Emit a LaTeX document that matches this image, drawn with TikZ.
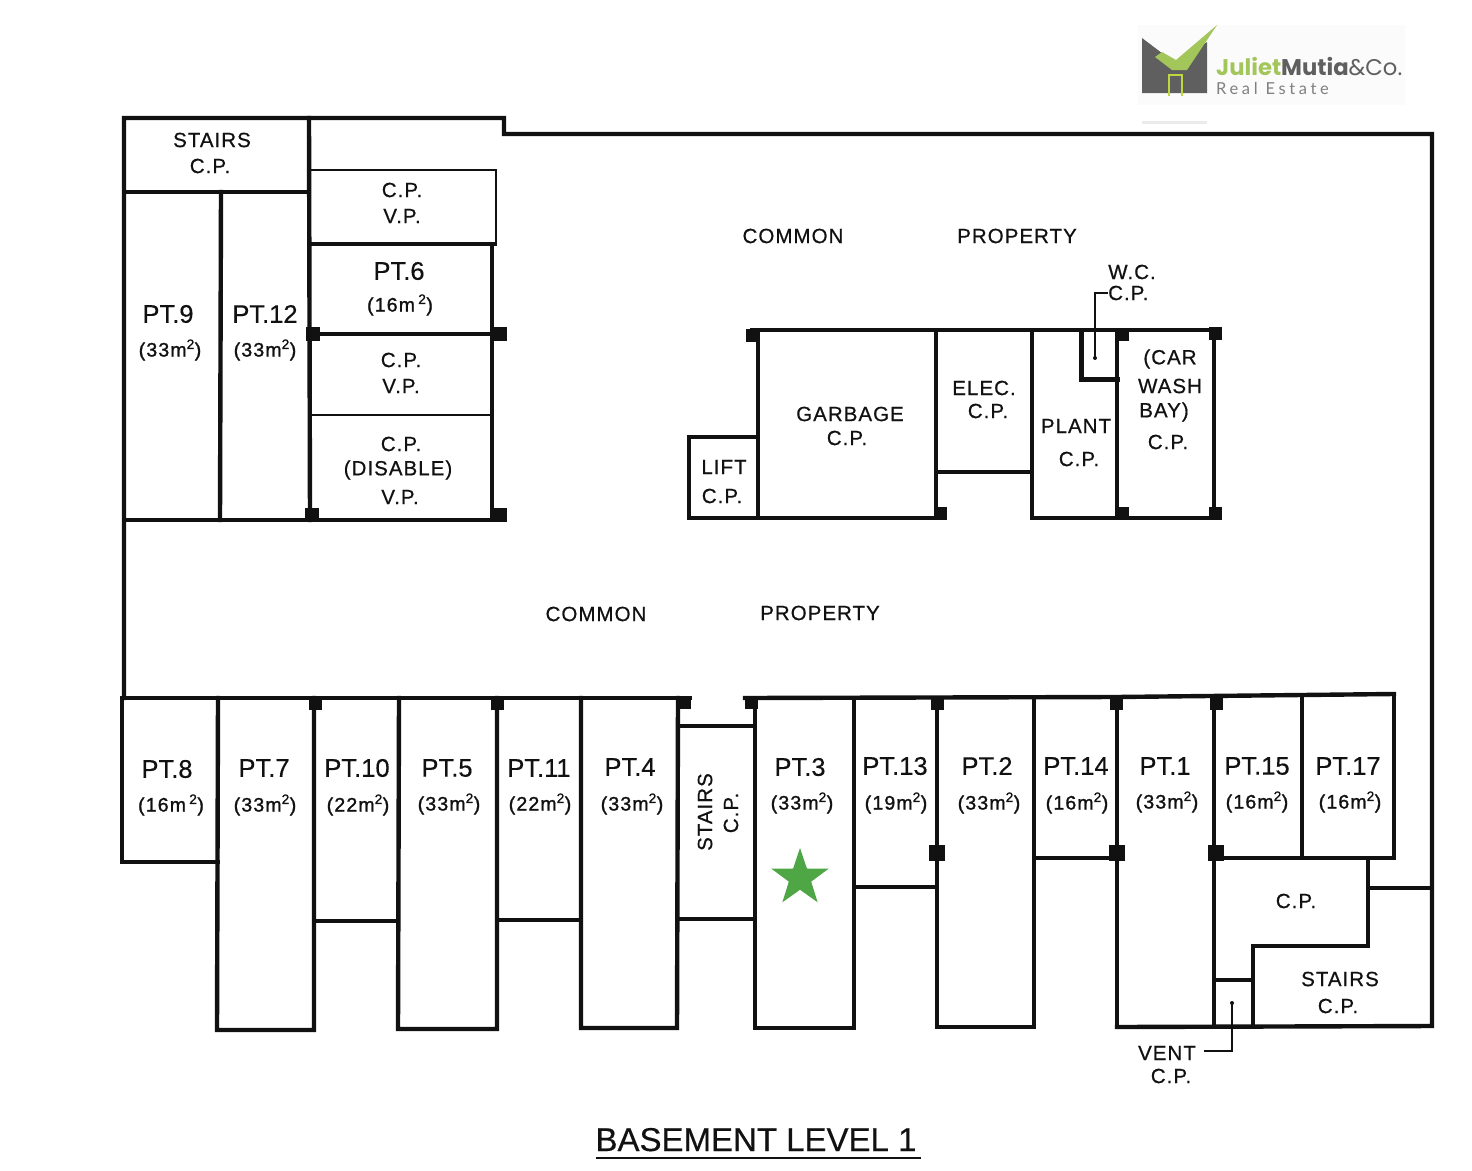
\documentclass[tikz,border=0pt]{standalone}
\usepackage{fontspec}
\setmainfont{Liberation Sans}
\newfontfamily\cadfont[LetterSpace=5,FakeBold=0.6]{Liberation Sans}
\newfontfamily\areafont[LetterSpace=6,FakeBold=1.2]{Liberation Sans}
\newfontfamily\ptfont[FakeBold=0.4]{Liberation Sans}
\newfontfamily\logofont{Poppins}
\newfontfamily\logolight[LetterSpace=22]{Lato}
\usetikzlibrary{shapes.geometric}
\definecolor{logogray}{HTML}{5F5F5F}
\definecolor{logogreen}{HTML}{A3C65A}
\definecolor{inkblack}{HTML}{111111}
\definecolor{stargreen}{HTML}{4FA644}
\tikzset{
  wall/.style={draw=inkblack,line width=4.4pt,line cap=rect,line join=miter},
  thinwall/.style={draw=inkblack,line width=2pt},
  leader/.style={draw=inkblack,line width=1.3pt},
  post/.style={fill=inkblack,draw=none,minimum size=13pt,inner sep=0pt,shape=rectangle},
  lab/.style={font=\cadfont\fontsize{20.5}{24}\selectfont,text=inkblack,inner sep=0pt,align=center},
  pt/.style={font=\ptfont\fontsize{25.5}{28}\selectfont,text=inkblack,inner sep=0pt},
  area/.style={font=\areafont\fontsize{19.5}{22}\selectfont,text=inkblack,inner sep=0pt},
}
\newcommand{\sq}{\textsuperscript{2}}
\begin{document}
\begin{tikzpicture}[x=1pt,y=-1pt]
\useasboundingbox[fill=white] (0,0) rectangle (1472,1170);
% logo
\fill[black!1.5] (1138,25) rectangle (1405,105);
\fill[black!8] (1142,121) rectangle (1207,124);
\fill[logogray] (1142,38) -- (1175,63) -- (1207,42) -- (1207,93) -- (1142,93) -- cycle;
\fill[logogreen] (1155,57) -- (1162,52) -- (1176,60) -- (1217,25) -- (1187,70) -- (1172,70) -- cycle;
\draw[logogreen!70!yellow,line width=1.2pt] (1169,96) -- (1169,75) -- (1182,75) -- (1182,96);
\node[anchor=base west,inner sep=0pt,font=\logofont\fontsize{22.7}{24}\selectfont] (logoname) at (1216,75)
  {\textcolor{logogreen}{\textbf{Juliet}}\textcolor{logogray}{\textbf{Mutia}}\textcolor{logogray}{\&Co.}};
\node[anchor=base west,inner sep=0pt,font=\logolight\fontsize{16.5}{18}\selectfont,text=black!50] (logosub) at (1216,94) {Real Estate};

% outer wall
\draw[wall] (124,698) -- (124,118) -- (504,118) -- (504,134) -- (1432,134) -- (1432,1026) -- (1117,1027);
% top-left block
\draw[wall] (124,192) -- (308,192);
\draw[wall] (309,118) -- (310,520);
\draw[wall] (221,192) -- (220,520);
\draw[wall] (124,520) -- (503,520);
\draw[thinwall] (310,170) -- (496,170) -- (496,244);
\draw[wall] (312,244) -- (495,244);
\draw[wall] (492,244) -- (492,520);
\draw[wall] (312,334) -- (500,334);
\draw[thinwall] (312,415) -- (492,415);
% centre block
\draw[wall] (752,330) -- (1218,330);
\draw[wall] (758,330) -- (758,518);
\draw[wall] (689,437) -- (758,437);
\draw[wall] (689,437) -- (689,518) -- (945,518);
\draw[wall] (936,330) -- (936,518);
\draw[wall] (936,472) -- (1032,472);
\draw[wall] (1032,330) -- (1032,518) -- (1218,518);
\draw[wall] (1117,330) -- (1117,518);
\draw[wall] (1214,330) -- (1214,518);
\draw[wall,line width=5pt] (1081,330) -- (1081,379) -- (1117,379);
% bottom block
\draw[wall] (122,698) -- (690,698);
\draw[wall] (745,698) -- (1116,697) -- (1394,694);
\draw[wall] (122,698) -- (122,862) -- (218,862);
\draw[wall] (218,698) -- (217,1030) -- (314,1030) -- (314,698);
\draw[wall] (314,921) -- (398,921);
\draw[wall] (399,698) -- (398,1029) -- (497,1029) -- (497,698);
\draw[wall] (497,920) -- (581,920);
\draw[wall] (581,698) -- (581,1028) -- (677,1028) -- (678,698);
\draw[wall] (678,726) -- (754,726);
\draw[wall] (678,919) -- (754,919);
\draw[wall] (755,698) -- (755,1028) -- (854,1028) -- (854,698);
\draw[wall] (854,887) -- (937,887);
\draw[wall] (937,698) -- (937,1027) -- (1034,1027) -- (1034,698);
\draw[wall] (1034,858) -- (1117,858);
\draw[wall] (1117,698) -- (1117,1027);
\draw[wall] (1214,696) -- (1214,1027);
\draw[wall] (1214,858) -- (1394,858);
\draw[wall] (1302,695) -- (1302,858);
\draw[wall] (1394,694) -- (1394,858);
\draw[wall] (1368,858) -- (1368,946) -- (1253,946) -- (1253,1027);
\draw[wall] (1368,888) -- (1432,888);
\draw[wall] (1214,980) -- (1253,980);

% posts
\node[post,minimum size=14pt] (p1) at (313,334) {};
\node[post,minimum size=14pt] (p2) at (500,334) {};
\node[post,minimum size=14pt] (p3) at (312,515) {};
\node[post,minimum size=14pt] (p4) at (500,515) {};
\node[post] (p5) at (752,335) {};
\node[post] (p6) at (1122,334) {};
\node[post] (p7) at (1215,333) {};
\node[post] (p8) at (940,513) {};
\node[post] (p9) at (1122,513) {};
\node[post] (p10) at (1215,513) {};
\node[post] (p11) at (315,703) {};
\node[post] (p12) at (497,703) {};
\node[post] (p13) at (684,702) {};
\node[post] (p14) at (751,702) {};
\node[post] (p15) at (937,703) {};
\node[post] (p16) at (1116,703) {};
\node[post] (p17) at (1216,703) {};
\node[post,minimum size=16pt] (p18) at (937,853) {};
\node[post,minimum size=16pt] (p19) at (1117,853) {};
\node[post,minimum size=16pt] (p20) at (1216,853) {};

% labels top-left
\node[lab] (s1a) at (212,140) {STAIRS};
\node[lab] (s1b) at (210,166) {C.P.};
\node[lab] (v1a) at (402,190) {C.P.};
\node[lab] (v1b) at (402,216) {V.P.};
\node[pt] (pt6) at (399,271) {PT.6};
\node[area] (a6) at (400,305) {(16m\,\sq)};
\node[lab] (v2a) at (401,360) {C.P.};
\node[lab] (v2b) at (401,386) {V.P.};
\node[lab] (v3a) at (401,444) {C.P.};
\node[lab] (v3b) at (398,470) {(DISABLE)};
\node[lab] (v3c) at (400,497) {V.P.};
\node[pt] (pt9) at (168,314) {PT.9};
\node[area] (a9) at (170,350) {(33m\sq)};
\node[pt] (pt12) at (265,314) {PT.12};
\node[area] (a12) at (265,350) {(33m\sq)};
% common property
\node[lab] (cp1) at (793,236) {COMMON};
\node[lab] (cp2) at (1017,236) {PROPERTY};
\node[lab] (cp3) at (596,614) {COMMON};
\node[lab] (cp4) at (820,613) {PROPERTY};
% centre labels
\node[lab] (g1) at (850,414) {GARBAGE};
\node[lab] (g2) at (847,438) {C.P.};
\node[lab] (l1) at (724,467) {LIFT};
\node[lab] (l2) at (722,496) {C.P.};
\node[lab] (e1) at (984,388) {ELEC.};
\node[lab] (e2) at (988,411) {C.P.};
\node[lab] (pl1) at (1076,426) {PLANT};
\node[lab] (pl2) at (1079,459) {C.P.};
\node[lab] (w1) at (1170,359) {(CAR};
\node[lab] (w2) at (1170,386) {WASH};
\node[lab] (w3) at (1164,412) {BAY)};
\node[lab] (w4) at (1168,442) {C.P.};
\node[lab] (wc1) at (1132,272) {W.C.};
\node[lab,anchor=west] (wc2) at (1108,293) {C.P.};
\coordinate (wcdot) at (1095,358);
\draw[leader] (wcdot) |- (wc2.west);
\fill[inkblack] (wcdot) circle (2pt);
% bottom labels
\node[pt] (pt8) at (167,769) {PT.8};
\node[area] (a8) at (171,805) {(16m\,\sq)};
\node[pt] (pt7) at (264,768) {PT.7};
\node[area] (a7) at (265,805) {(33m\sq)};
\node[pt] (pt10) at (357,768) {PT.10};
\node[area] (a10) at (358,805) {(22m\sq)};
\node[pt] (pt5) at (447,768) {PT.5};
\node[area] (a5) at (449,804) {(33m\sq)};
\node[pt] (pt11) at (539,768) {PT.11};
\node[area] (a11) at (540,804) {(22m\sq)};
\node[pt] (pt4) at (630,767) {PT.4};
\node[area] (a4) at (632,804) {(33m\sq)};
\node[lab,rotate=90] (st2a) at (705,812) {STAIRS};
\node[lab,rotate=90] (st2b) at (731,813) {C.P.};
\node[pt] (pt3) at (800,767) {PT.3};
\node[area] (a3) at (802,803) {(33m\sq)};
\node[pt] (pt13) at (895,766) {PT.13};
\node[area] (a13) at (896,803) {(19m\sq)};
\node[pt] (pt2) at (987,766) {PT.2};
\node[area] (a2) at (989,803) {(33m\sq)};
\node[pt] (pt14) at (1076,766) {PT.14};
\node[area] (a14) at (1077,803) {(16m\sq)};
\node[pt] (pt1) at (1165,766) {PT.1};
\node[area] (a1) at (1167,802) {(33m\sq)};
\node[pt] (pt15) at (1257,766) {PT.15};
\node[area] (a15) at (1257,802) {(16m\sq)};
\node[pt] (pt17) at (1348,766) {PT.17};
\node[area] (a17) at (1350,802) {(16m\sq)};
\node[lab] (c1) at (1296,901) {C.P.};
\node[lab] (s3a) at (1340,979) {STAIRS};
\node[lab] (s3b) at (1338,1006) {C.P.};
\node[lab] (v1) at (1167,1053) {VENT};
\node[lab] (v2) at (1171,1076) {C.P.};
\coordinate (ventdot) at (1232,1003);
\draw[leader] (ventdot) -- (1232,1051) -- (1204,1051);
\fill[inkblack] (ventdot) circle (2pt);
% star
\node[star,star points=5,star point ratio=2.55,fill=stargreen,draw=none,minimum size=60pt,inner sep=0pt] (unit) at (800,878) {};
% title
\node[inner sep=0pt,anchor=base,font=\ptfont\fontsize{33}{36}\selectfont,text=inkblack] (title) at (756,1151) {BASEMENT LEVEL 1};
\draw[draw=inkblack,line width=1.6pt] (596,1158) -- (921,1158);
\end{tikzpicture}
\end{document}
